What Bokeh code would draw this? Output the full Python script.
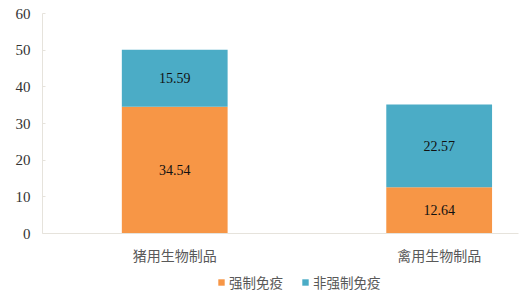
from bokeh.plotting import figure
from bokeh.models import ColumnDataSource, Range1d, Legend, LegendItem, LabelSet, FixedTicker
from bokeh.layouts import column
from bokeh.embed import file_html
from bokeh.resources import INLINE

categories = ["猪用生物制品", "禽用生物制品"]
mandatory = [34.54, 12.64]
non_mandatory = [15.59, 22.57]
series_names = ["强制免疫", "非强制免疫"]
y_ticks = [0, 10, 20, 30, 40, 50, 60]

colors = ["#F79646", "#4BACC6"]

xpos = [i + 0.5 for i in range(len(categories))]
src = ColumnDataSource(dict(x=xpos, m=mandatory, n=non_mandatory))

p = figure(width=520, height=267, x_range=Range1d(0, 1.8),
           y_range=Range1d(0, 60), output_backend="svg", toolbar_location=None,
           min_border_left=42, min_border_right=2, min_border_top=13, min_border_bottom=34)
p.outline_line_color = None
p.xgrid.grid_line_color = None
p.ygrid.grid_line_color = None

rs = p.vbar_stack(["m", "n"], x="x", width=0.4, color=colors, source=src, line_color=None)

lab = dict(x=xpos * 2,
           y=[v / 2 for v in mandatory] + [m + n / 2 for m, n in zip(mandatory, non_mandatory)],
           t=["%.2f" % v for v in mandatory + non_mandatory])
ls = LabelSet(x="x", y="y", text="t", source=ColumnDataSource(lab), text_align="center",
              text_baseline="middle", text_font="Liberation Serif", text_font_size="14px",
              text_color="#111111")
p.add_layout(ls)

p.yaxis.ticker = FixedTicker(ticks=y_ticks)
p.yaxis.axis_line_color = "#e6e3dc"
p.yaxis.major_tick_line_color = "#e6e3dc"
p.yaxis.major_tick_out = 0
p.yaxis.major_tick_in = 3
p.yaxis.minor_tick_line_color = None
p.yaxis.major_label_text_font = "Liberation Serif"
p.yaxis.major_label_text_font_size = "15px"
p.yaxis.major_label_text_color = "#333333"
p.yaxis.major_label_standoff = 12

p.xaxis.ticker = FixedTicker(ticks=xpos)
p.xaxis.major_label_overrides = {x: c for x, c in zip(xpos, categories)}
p.xaxis.axis_line_color = "#e6e3dc"
p.xaxis.major_tick_line_color = None
p.xaxis.minor_tick_line_color = None
p.xaxis.major_label_text_font = "Noto Sans CJK SC"
p.xaxis.major_label_text_font_size = "14px"
p.xaxis.major_label_text_color = "#595959"
p.xaxis.major_label_standoff = 5

# legend strip
p2 = figure(width=520, height=35, x_range=Range1d(0, 1), y_range=Range1d(0, 1),
            output_backend="svg", toolbar_location=None,
            x_axis_location=None, y_axis_location=None,
            min_border=0, min_border_left=0, min_border_right=0, min_border_top=0, min_border_bottom=0)
p2.grid.visible = False
p2.outline_line_color = None
offscreen = ColumnDataSource(dict(x=[-10], top=[-10]))
items = []
for name, c in zip(series_names, colors):
    r = p2.vbar(x="x", top="top", width=0.1, source=offscreen, fill_color=c, line_color=None)
    items.append(LegendItem(label=name, renderers=[r]))

legend = Legend(items=items, orientation="horizontal", location=(175, 10))
legend.label_text_font = "Noto Sans CJK SC"
legend.label_text_font_size = "13.5px"
legend.label_text_color = "#595959"
legend.glyph_width = 8
legend.glyph_height = 8
legend.label_standoff = 4
legend.spacing = 18
legend.border_line_color = None
legend.background_fill_alpha = 0
legend.padding = 6
legend.margin = 0
p2.add_layout(legend, "center")

layout = column(p, p2, spacing=0)
open("out.html", "w").write(file_html(layout, INLINE))
